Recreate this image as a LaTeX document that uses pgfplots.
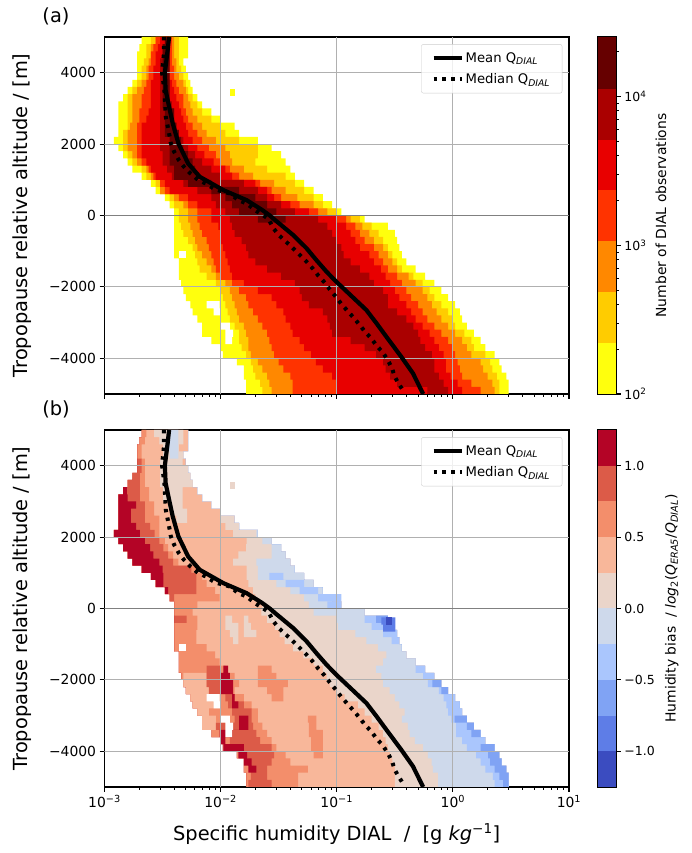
\documentclass[border=0pt]{standalone}
\usepackage{fontspec}
\setmainfont{DejaVu Sans}
\usepackage{pgfplots}
\usepackage{pgfplotstable}
\pgfplotsset{compat=1.18}

% colours: counts (a)
\definecolor{na}{HTML}{FFFF0D}
\definecolor{nb}{HTML}{FFCC00}
\definecolor{nc}{HTML}{FF8800}
\definecolor{nd}{HTML}{FF3300}
\definecolor{ne}{HTML}{E80000}
\definecolor{nf}{HTML}{AA0000}
\definecolor{ng}{HTML}{660000}
% colours: bias (b), highest first
\definecolor{ca}{HTML}{B40426}
\definecolor{cb}{HTML}{DC5B48}
\definecolor{cc}{HTML}{F38E6B}
\definecolor{cd}{HTML}{F8B79A}
\definecolor{ce}{HTML}{EAD5CA}
\definecolor{cf}{HTML}{CED9EB}
\definecolor{cg}{HTML}{AAC6FD}
\definecolor{ch}{HTML}{80A3F4}
\definecolor{ci}{HTML}{5E7DE7}
\definecolor{cj}{HTML}{3B4CC0}
\definecolor{gridc}{HTML}{B0B0B0}

% histogram outlines, one row per 200 m, edges as bin numbers k: q = 10^(-3+0.04 k)
\pgfplotstableread{
y L1 L2 L3 L4 L5 L6 R6 R5 R4 R3 R2 R1
4900 8 10 11 11 12 13 14 14 14.5 15 16 18
4700 7.5 9 10 10.5 11.5 12.5 14 14 14.5 15 16 18
4500 7 9 10 10 11 12.5 14 14 14.5 15 16 18
4300 7 8.5 9.5 10 11 12 14 14 14.5 15.5 16 17
4100 7 8 9 9.5 10.5 12 13.5 14 15 15.5 16.5 17.5
3900 7 8 9 9.5 10.5 12 13.5 14 15 16 17 18
3700 6 7 8 9 10 12 14 14.5 15.5 17 17.5 18.5
3500 5 6 7 8.5 10 12 14 15 16 17.5 18 19
3300 4 5 6 8 10 12 14 15.5 17 18 19 20
3100 3 5 6 8 10 12 14.5 16 17 18.5 20 21
2900 3 5 6 7.5 9.5 12 15 16.5 17.5 19 21 23
2700 3 5 6 7.5 9 12 15 17 18 20 23 25
2500 3 5 5.5 7 8 12 15.5 17.5 19 21 25 28
2300 3 4 5 7 8 12 16 18 20 22 26 29
2100 2 4 5 7 8 12 17 19 21 24 29 33
1900 3 4 5 7 8 12 18 20 22.5 26 33 36
1700 4 5 6 7 8 12.5 19.5 21.5 24 27 33 38
1500 5 6 7 8 9 12.5 21 23.5 25 27.5 32.5 39
1300 6 8 9 9.5 10 13.5 23 26 27 30 35 40
1100 8 9 10 10.5 11 14.5 25 27.5 29 32 39 41
900 10 11 12 12 13 17 30 32.5 33.5 36.5 41 43
700 11 12 12 13 14 20 33 35 36 39 43 45
500 13 14 15 16 18 23 35 36.5 38 41.5 45 47
300 14 15 17 18 20 24 38 40 42 45 47 49
100 15 16 18 20 23 26 41 44 46 48 50 51
-100 15 16 18 20 23 27 46 50 52 53 55 56
-300 15 16.5 18.5 20.5 24.5 27.5 48 52 54 55.5 57.5 61
-500 15 17 19 21 25 28 49 53 55 57 59 62.5
-700 15 18 19.5 22 25 29.5 50 54 56 58 60 63
-900 15 19 20 22.5 25.5 30.5 51 55 58 60 61 63.5
-1100 15 19.5 21 23 26 31 51.5 57 59 61 62 64
-1300 16 20 22 23.5 26.5 32.5 53 58 60 62 63 65
-1500 16 20.5 23 24 27 35 55 59.5 61 63 64 67
-1700 16 22 24 25 27.5 38 57 60.5 63 65.5 66.5 69
-1900 16.5 24 26 27.5 30 41 58 61.5 64 67 68.5 71
-2100 17 25 27 29 33 42 60 62.5 65 68.5 70 72.5
-2300 17.5 25.5 27.5 30.5 36 42.5 61 63.5 66 69.5 71 74
-2500 18.5 26 28 31 37 44 61 65 67.5 70.5 72.5 75.5
-2700 19 26.5 28.5 32 38.5 47 63 66 68.5 71.5 74 76.5
-2900 20 27 29 33 39 48 65 67 69.5 72.5 75 77
-3100 21 28 30 34 40 48.5 66.5 68.5 71 74 75.5 78
-3300 21 29 30.5 35 40.5 49 67.5 70 72.5 75.5 77.5 79.5
-3500 23 29 31 35.5 42 53 68 71 74 77 79 81
-3700 25 29.5 31 36 43 56 69 72 75 78 79.5 82
-3900 25.5 30.5 31.5 36.5 44.5 58.5 70.5 73 75.5 79 82 84
-4100 28.5 31.5 33 37.5 45.5 60 71 73.5 76 81 83 85
-4300 30 32 34 38.5 47 60.5 71 73.5 76.5 81.5 83.5 85.5
-4500 30 32.5 35 40 49 61.5 72 74.5 77 82.5 84.5 86.5
-4700 30.5 33.5 35.5 40.5 50 63 73 76 79 83.5 85 87
-4900 30.5 34 36 40.5 50 69.5 74 77 81 84 85 87
}\tabcounts

\pgfplotstableread{
y L R
4900 13 14
4700 12.5 14
4500 12.5 14
4300 12.5 14
4100 12.5 14
3900 12.5 14
3700 12.5 14
3500 12.5 14
3300 12.5 14
3100 12.5 14
2900 13 15
2700 13 15
2500 13 15.5
2300 13 16
2100 14 16.5
1900 14 17
1700 14 18
1500 14 19
1300 15 19.5
1100 15 20
900 18 23
700 23 29
500 26 32.5
300 27.5 35
100 29 37
-100 33 39
}\tabtopdark

\pgfplotstableread{
y L R
3450 27 28
}\tabspeck

\pgfplotstableread{
y L R
-1100 16 17.5
}\tabholea
\pgfplotstableread{
y L R
-2500 22 24.8
-2700 23.5 25
}\tabholeb
\pgfplotstableread{
y L R
-3100 25 27
-3300 26 27.7
-3500 26 27.5
}\tabholec

% panel (b): where each bias class starts along a row
\pgfplotstableread{
y L1 b2 b3 b4 b5 b6 b7 b8 R1
4900 8 8 8 9 18 18 18 18 18
4700 7.5 7.5 7.5 8.7 18 18 18 18 18
4500 7 7 7 8 18 18 18 18 18
4300 7 7 7 8 17 17 17 17 17
4100 7 7 8 8.7 17.5 17.5 17.5 17.5 17.5
3900 7 7 8 8.7 18 18 18 18 18
3700 6 6 7.6 8.7 18.5 18.5 18.5 18.5 18.5
3500 5 5 7.6 8.7 19 19 19 19 19
3300 4 4.8 7.6 9.6 20 20 20 20 20
3100 3 5 7.6 9.6 21 21 21 21 21
2900 3 6.8 8.7 10.7 23 23 23 23 23
2700 3 5.7 8.7 10.7 25 25 25 25 25
2500 3 5.7 8.7 11.8 25 28 28 28 28
2300 3 6.8 9.8 11.8 26 29 29 29 29
2100 2 7.6 10.8 11.8 27.7 32.7 33 33 33
1900 3 8.7 11.8 13 30.6 34 36 36 36
1700 4 9.8 12.7 13.7 30.5 36 38 38 38
1500 5 10.5 13.7 14.8 28.8 36 39 39 39
1300 6 11.8 14.8 15.9 27.7 32.7 40 40 40
1100 8 12.5 18.7 19.8 30.6 33 41 41 41
900 10 12.7 19.8 21 30.6 33 43 43 43
700 11 12.7 19.8 22 31 37 45 45 45
500 13 13.7 19.8 23.8 32 40 47 47 47
300 14 14 15 24.8 32.5 43 49 49 49
100 15 15 15 20 34 44 48 51 51
-100 15 15 15 19 33.8 45 56 56 56
-300 15 15 17.7 20 35 50 56 58.5 61
-500 15 15 15 20 36.7 50.3 57.5 60 62.5
-700 15 15 15 19.8 37.7 54 60 63 63
-900 15 15 15 19.8 38.8 56.4 61.8 63.5 63.5
-1100 15 15 15 22 40.6 58.9 64 64 64
-1300 16 16 16 23.8 42.8 60.7 65 65 65
-1500 16 16 16 24.8 45 60 67 67 67
-1700 16 16 16 26 47 58.5 67 69 69
-1900 16.5 16.5 16.5 28 47.8 59.6 68.6 71 71
-2100 17 17 17 29 48.5 60 69.6 70.6 72.5
-2300 17.5 17.5 17.5 28 50 61.4 72 72.5 74
-2500 18.5 18.5 18.5 30 51.7 62.5 73 75.5 75.5
-2700 19 19 19 31.7 54.6 63.5 73.6 76.5 76.5
-2900 20 20 20 33 56 64.6 74 77 77
-3100 21 21 21 33 57.5 64 74.7 75.4 78
-3300 21 21 21 34 59 65.3 75.7 78 79.5
-3500 23 23 23 35 60 65.7 75.7 79 81
-3700 25 25 25 36 60.5 66.8 77 82 82
-3900 25.5 25.5 25.5 37 61 68.6 78 81 84
-4100 28.5 28.5 28.5 39 61.5 69.6 80 82.6 85
-4300 30 30 30 40 62 70.4 81 83 85.5
-4500 30 30 30 43.8 62.5 70.7 82 84 86.5
-4700 30.5 30.5 30.5 41.7 62.5 71.8 83.6 85 87
-4900 30.5 30.5 30.5 41.7 62.5 71.8 84 85.8 87
}\tabbias

% patches of panel (b) that break the left-to-right order
\pgfplotstableread{
y L R
4900 10.7 17
4700 11.8 17
4500 12.6 16
4300 12.6 17
4100 12 16.8
3900 12 18
3700 12 18.5
3500 12 19
3300 12.6 16.8
3100 12.6 16.8
2900 13.7 16.8
2700 14.5 17.8
2500 15.5 17.8
}\tabstrip
\pgfplotstableread{
y L R
4900 13.7 15.9
4700 13.7 15.9
4500 13.7 15.9
4300 14 15.9
}\tabstripblue
\pgfplotstableread{
y L R
-1900 17 22
-2100 17 22
-2300 17.5 22.5
-2500 18.5 25
-2700 19 25
-2900 20 22.5
-3100 21 24
-3300 21 25
}\tabpale
\pgfplotstableread{
y L R
-1700 22 25
-1900 22 26.6
-2100 22 25
-2300 22.5 26
-2500 26 28
-2700 26.6 30
-2900 27.5 31.7
-3100 28 31.7
-3300 24 32
-3500 25 32.7
-3700 27 33.5
-3900 27 36
-4100 29 36.5
-4300 31 36
-4500 31.5 35
-4700 31.5 35
-4900 31 36
}\tabredmid
\pgfplotstableread{
y L R
-1700 25.6 26.6
-1900 25 27
-2100 25 27.7
-2300 25 27.7
-2500 27.5 28
-2700 27.5 28.8
}\tabredhia
\pgfplotstableread{
y L R
-3100 29 31
-3300 29 31
-3500 24.8 27.5
-3700 25 26
-3900 25.6 30
-4100 28.8 30.7
-4300 30 31.7
-4500 31 32.7
}\tabredhib
\pgfplotstableread{
y L R
-1700 33 36
-1900 33 37
-2100 33 39.5
-2300 35 38.5
-2500 36 38.5
}\tabsalma
\pgfplotstableread{
y L R
-3100 43.8 45.6
-3300 44 45.6
-3500 44 47
-3700 44.5 47
-3900 44.5 47
-4100 45 47
}\tabsalmb
\pgfplotstableread{
y L R
-300 26 27.5
-500 26 28.8
-700 27 28.8
-900 27.7 28.8
}\tabbeigea
\pgfplotstableread{
y L R
-300 30 31
-500 30 31.5
-700 30 32.7
}\tabbeigeb
\pgfplotstableread{
y L R
900 35.5 38.5
700 39 43
500 42 46
300 46 51
}\tabbluea
\pgfplotstableread{
y L R
-350 59.6 62.6
-550 60 62.6
}\tabblueb
\pgfplotstableread{
y L R
-350 60.6 62
}\tabbluec

\pgfplotstableread{
q y
3.60e-3 5000
3.50e-3 4636
3.31e-3 4000
3.36e-3 3514
3.60e-3 3047
3.87e-3 2580
4.33e-3 2019
5.25e-3 1458
6.61e-3 1084
1.057e-2 710
1.675e-2 430
2.29e-2 150
2.65e-2 0
2.94e-2 -126
4.21e-2 -547
5.50e-2 -920
6.67e-2 -1248
8.17e-2 -1575
9.91e-2 -1855
0.1117 -2014
0.180 -2650
0.22 -3020
0.268 -3400
0.36 -3960
0.453 -4420
0.555 -5000
}\tabmean

\pgfplotstableread{
q y
3.25e-3 5000
3.25e-3 4820
3.25e-3 4540
3.13e-3 4000
3.28e-3 3514
3.34e-3 3047
3.37e-3 2766
3.60e-3 2300
3.73e-3 2019
3.98e-3 1785
4.37e-3 1550
4.83e-3 1365
5.50e-3 1178
6.43e-3 990
7.45e-3 897
8.95e-3 730
1.20e-2 617
1.42e-2 430
1.675e-2 336
1.98e-2 150
2.56e-2 -84
2.88e-2 -380
3.22e-2 -570
3.70e-2 -750
4.21e-2 -920
4.79e-2 -1100
5.50e-2 -1295
6.19e-2 -1480
6.92e-2 -1680
7.80e-2 -1865
8.71e-2 -2070
9.82e-2 -2275
0.1096 -2480
0.1236 -2670
0.139 -2855
0.157 -3060
0.175 -3255
0.198 -3440
0.221 -3650
0.249 -3835
0.275 -4050
0.299 -4275
0.316 -4520
0.344 -4730
0.384 -4965
}\tabmedian

\newcommand{\qfromk}[1]{%
  \begingroup
  \pgfkeys{/pgf/fpu=true,/pgf/fpu/output format=sci}%
  \pgfmathparse{10^(-3+0.04*#1)}%
  \global\let\qval\pgfmathresult
  \endgroup}

% filled stair outline between two columns of a table
\newcommand{\band}[4]{%
  \pgfplotstablegetrowsof{#1}%
  \pgfmathtruncatemacro\nrows{\pgfplotsretval-1}%
  \gdef\leftp{}\gdef\rightp{}%
  \pgfplotsforeachungrouped \rw in {0,...,\nrows}{%
    \pgfplotstablegetelem{\rw}{y}\of{#1}\let\yc\pgfplotsretval
    \pgfplotstablegetelem{\rw}{#2}\of{#1}\qfromk{\pgfplotsretval}\let\xl\qval
    \pgfplotstablegetelem{\rw}{#3}\of{#1}\qfromk{\pgfplotsretval}\let\xr\qval
    \xdef\leftp{\leftp(\xl,\the\numexpr\yc+100\relax)(\xl,\the\numexpr\yc-100\relax)}%
    \xdef\rightp{(\xr,\the\numexpr\yc-100\relax)(\xr,\the\numexpr\yc+100\relax)\rightp}%
  }%
  \edef\bandcmd{\noexpand\addplot[fill=#4,draw=none,forget plot] coordinates {\leftp\rightp} --cycle;}%
  \bandcmd}

\newcommand{\gridandcurves}{%
  \addplot[gridc,line width=1.1pt,forget plot] coordinates {(1e-2,-5000)(1e-2,5000)};
  \addplot[gridc,line width=1.1pt,forget plot] coordinates {(1e-1,-5000)(1e-1,5000)};
  \addplot[gridc,line width=1.1pt,forget plot] coordinates {(1,-5000)(1,5000)};
  \addplot[gridc,line width=1.1pt,forget plot] coordinates {(1e-3,-4000)(10,-4000)};
  \addplot[gridc,line width=1.1pt,forget plot] coordinates {(1e-3,-2000)(10,-2000)};
  \addplot[gridc,line width=1.1pt,forget plot] coordinates {(1e-3,2000)(10,2000)};
  \addplot[gridc,line width=1.1pt,forget plot] coordinates {(1e-3,4000)(10,4000)};
  \addplot[gray,line width=1.6pt,forget plot] coordinates {(1e-3,0)(10,0)};
  \addplot[black,line width=4.2pt] table[x=q,y=y] {\tabmean};
  \addlegendentry{Mean Q\textsubscript{\textit{DIAL}}}
  \addplot[black,line width=4pt,dash pattern=on 3.4pt off 5.4pt] table[x=q,y=y] {\tabmedian};
  \addlegendentry{Median Q\textsubscript{\textit{DIAL}}}
}

\pgfplotsset{
  scale only axis,
  tick align=outside,
  major tick length=4.9pt,minor tick length=2.8pt,
  tick style={black,line width=1.1pt},
  minor tick style={black,line width=0.8pt},
  axis line style={black,line width=1.1pt},
}

\begin{document}
\begin{tikzpicture}
\path[use as bounding box] (0pt,0pt) rectangle (692pt,853pt);

\node[font=\fontsize{19.4}{23}\selectfont] at (56pt,837pt) {(a)};
\node[font=\fontsize{19.4}{23}\selectfont] at (56pt,444pt) {(b)};

\begin{axis}[width=464.5pt,height=357pt,
  xmode=log,log basis x=10,
  xmin=1e-3,xmax=10,ymin=-5000,ymax=5000,
  xtick={1e-3,1e-2,1e-1,1,10},xticklabels={},
  minor xtick={2e-3,3e-3,4e-3,5e-3,6e-3,7e-3,8e-3,9e-3,2e-2,3e-2,4e-2,5e-2,6e-2,7e-2,8e-2,9e-2,0.2,0.3,0.4,0.5,0.6,0.7,0.8,0.9,2,3,4,5,6,7,8,9},
  ytick={-4000,-2000,0,2000,4000},
  yticklabels={−4000,−2000,0,2000,4000},
  xtick pos=bottom,ytick pos=left,
  tick label style={font=\fontsize{13.9}{16}\selectfont},
  ylabel={Tropopause relative altitude / [m]},
  every axis y label/.style={at={(axis description cs:-0.178,0.5)},rotate=90,anchor=center,font=\fontsize{19.4}{23}\selectfont},
  legend style={at={(0.9855,0.98)},anchor=north east,draw=black!20,rounded corners=2pt,
    fill=white,fill opacity=0.8,text opacity=1,draw opacity=1,
    font=\fontsize{13.2}{16}\selectfont,inner xsep=10pt,inner ysep=6pt,row sep=6pt},
  legend cell align=left,
  legend image code/.code={\draw[#1](0pt,0pt)--(28pt,0pt);},
  anchor=south west,at={(104.5pt,459pt)}]
\band{\tabcounts}{L1}{R1}{na}
\band{\tabspeck}{L}{R}{na}
\band{\tabcounts}{L2}{R2}{nb}
\band{\tabcounts}{L3}{R3}{nc}
\band{\tabcounts}{L4}{R4}{nd}
\band{\tabcounts}{L5}{R5}{ne}
\band{\tabcounts}{L6}{R6}{nf}
\band{\tabtopdark}{L}{R}{ng}
\band{\tabholea}{L}{R}{white}
\band{\tabholeb}{L}{R}{white}
\band{\tabholec}{L}{R}{white}
\gridandcurves
\end{axis}

\begin{axis}[width=464.5pt,height=357pt,
  xmode=log,log basis x=10,
  xmin=1e-3,xmax=10,ymin=-5000,ymax=5000,
  xtick={1e-3,1e-2,1e-1,1,10},
  minor xtick={2e-3,3e-3,4e-3,5e-3,6e-3,7e-3,8e-3,9e-3,2e-2,3e-2,4e-2,5e-2,6e-2,7e-2,8e-2,9e-2,0.2,0.3,0.4,0.5,0.6,0.7,0.8,0.9,2,3,4,5,6,7,8,9},
  xticklabels={10\textsuperscript{−3},10\textsuperscript{−2},10\textsuperscript{−1},10\textsuperscript{0},10\textsuperscript{1}},
  ytick={-4000,-2000,0,2000,4000},
  yticklabels={−4000,−2000,0,2000,4000},
  xtick pos=bottom,ytick pos=left,
  tick label style={font=\fontsize{13.9}{16}\selectfont},
  ylabel={Tropopause relative altitude / [m]},
  every axis y label/.style={at={(axis description cs:-0.178,0.5)},rotate=90,anchor=center,font=\fontsize{19.4}{23}\selectfont},
  xlabel={Specific humidity DIAL\ \ /\ \ [g \textit{kg}\textsuperscript{−1}]},
  every axis x label/.style={at={(axis description cs:0.5,-0.132)},anchor=center,font=\fontsize{19.4}{23}\selectfont},
  legend style={at={(0.9855,0.98)},anchor=north east,draw=black!20,rounded corners=2pt,
    fill=white,fill opacity=0.8,text opacity=1,draw opacity=1,
    font=\fontsize{13.2}{16}\selectfont,inner xsep=10pt,inner ysep=6pt,row sep=6pt},
  legend cell align=left,
  legend image code/.code={\draw[#1](0pt,0pt)--(28pt,0pt);},
  anchor=south west,at={(104.5pt,66pt)}]
\band{\tabbias}{L1}{R1}{cd}
\band{\tabspeck}{L}{R}{ce}
\band{\tabbias}{L1}{b4}{cc}
\band{\tabbias}{L1}{b3}{cb}
\band{\tabbias}{L1}{b2}{ca}
\band{\tabbias}{b5}{R1}{ce}
\band{\tabbias}{b6}{R1}{cf}
\band{\tabbias}{b7}{R1}{cg}
\band{\tabbias}{b8}{R1}{ch}
\band{\tabstrip}{L}{R}{ce}
\band{\tabstripblue}{L}{R}{cf}
\band{\tabpale}{L}{R}{cd}
\band{\tabsalma}{L}{R}{cc}
\band{\tabsalmb}{L}{R}{cc}
\band{\tabbeigea}{L}{R}{ce}
\band{\tabbeigeb}{L}{R}{ce}
\band{\tabredmid}{L}{R}{cb}
\band{\tabredhia}{L}{R}{ca}
\band{\tabredhib}{L}{R}{ca}
\band{\tabbluea}{L}{R}{cg}
\band{\tabblueb}{L}{R}{ci}
\band{\tabbluec}{L}{R}{cj}
\band{\tabholea}{L}{R}{white}
\band{\tabholeb}{L}{R}{white}
\band{\tabholec}{L}{R}{white}
\gridandcurves
\end{axis}

\begin{axis}[width=18pt,height=357pt,anchor=south west,at={(598pt,459pt)},
  xmin=0,xmax=1,xtick=\empty,ytick pos=right,yticklabel pos=right,
  tick label style={font=\fontsize{12.5}{15}\selectfont},
  ymode=log,ymin=100,ymax=25000,ytick={100,1000,10000},
  minor ytick={200,300,400,500,600,700,800,900,2000,3000,4000,5000,6000,7000,8000,9000,20000},
  yticklabels={10\textsuperscript{2},10\textsuperscript{3},10\textsuperscript{4}},
  ylabel={Number of DIAL observations},
  every axis y label/.style={at={(axis description cs:3.5,0.5)},rotate=90,anchor=center,font=\fontsize{13.9}{16}\selectfont}]
\addplot[fill=na,draw=none] coordinates {(0,100)(1,100)(1,220)(0,220)} --cycle;
\addplot[fill=nb,draw=none] coordinates {(0,220)(1,220)(1,483)(0,483)} --cycle;
\addplot[fill=nc,draw=none] coordinates {(0,483)(1,483)(1,1061)(0,1061)} --cycle;
\addplot[fill=nd,draw=none] coordinates {(0,1061)(1,1061)(1,2330)(0,2330)} --cycle;
\addplot[fill=ne,draw=none] coordinates {(0,2330)(1,2330)(1,5120)(0,5120)} --cycle;
\addplot[fill=nf,draw=none] coordinates {(0,5120)(1,5120)(1,11250)(0,11250)} --cycle;
\addplot[fill=ng,draw=none] coordinates {(0,11250)(1,11250)(1,25000)(0,25000)} --cycle;
\end{axis}

\begin{axis}[width=18pt,height=357pt,anchor=south west,at={(598pt,66pt)},
  xmin=0,xmax=1,xtick=\empty,ytick pos=right,yticklabel pos=right,
  tick label style={font=\fontsize{12.5}{15}\selectfont},
  ymin=-1.25,ymax=1.25,ytick={-1,-0.5,0,0.5,1},
  yticklabels={−1.0,−0.5,0.0,0.5,1.0},
  ylabel={Humidity bias\ \ / \textit{log}\textsubscript{2}(\textit{Q}\textsubscript{\textit{ERA5}}/\textit{Q}\textsubscript{\textit{DIAL}})},
  every axis y label/.style={at={(axis description cs:4.1,0.5)},rotate=90,anchor=center,font=\fontsize{13.9}{16}\selectfont}]
\addplot[fill=cj,draw=none] coordinates {(0,-1.25)(1,-1.25)(1,-1)(0,-1)} --cycle;
\addplot[fill=ci,draw=none] coordinates {(0,-1)(1,-1)(1,-0.75)(0,-0.75)} --cycle;
\addplot[fill=ch,draw=none] coordinates {(0,-0.75)(1,-0.75)(1,-0.5)(0,-0.5)} --cycle;
\addplot[fill=cg,draw=none] coordinates {(0,-0.5)(1,-0.5)(1,-0.25)(0,-0.25)} --cycle;
\addplot[fill=cf,draw=none] coordinates {(0,-0.25)(1,-0.25)(1,0)(0,0)} --cycle;
\addplot[fill=ce,draw=none] coordinates {(0,0)(1,0)(1,0.25)(0,0.25)} --cycle;
\addplot[fill=cd,draw=none] coordinates {(0,0.25)(1,0.25)(1,0.5)(0,0.5)} --cycle;
\addplot[fill=cc,draw=none] coordinates {(0,0.5)(1,0.5)(1,0.75)(0,0.75)} --cycle;
\addplot[fill=cb,draw=none] coordinates {(0,0.75)(1,0.75)(1,1)(0,1)} --cycle;
\addplot[fill=ca,draw=none] coordinates {(0,1)(1,1)(1,1.25)(0,1.25)} --cycle;
\end{axis}
\end{tikzpicture}
\end{document}
